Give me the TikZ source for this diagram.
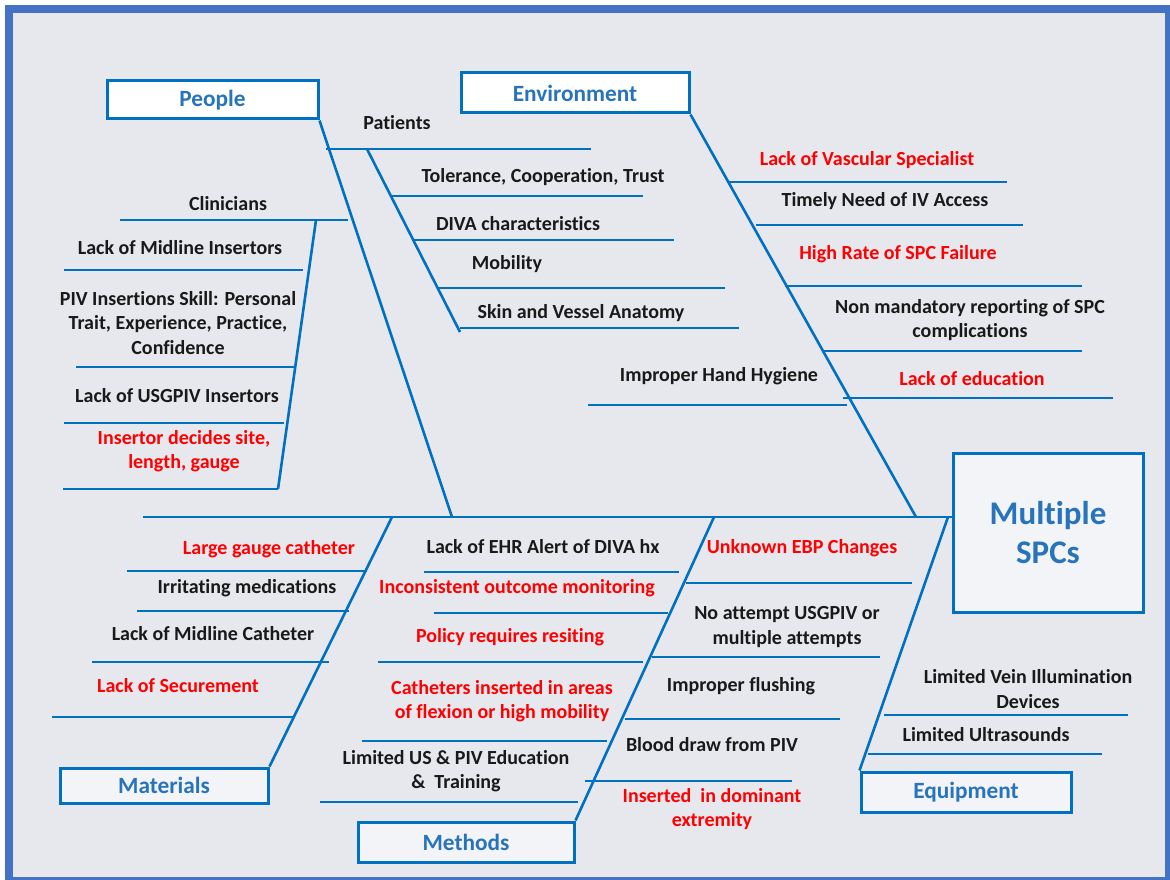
\documentclass[tikz,border=0pt]{standalone}
\usepackage{fontspec}
\setmainfont{Carlito}[Ligatures={NoCommon}]
\usetikzlibrary{positioning,calc}

\definecolor{frameblue}{RGB}{68,114,196}
\definecolor{boneblue}{RGB}{0,112,192}
\definecolor{headblue}{RGB}{40,116,188}
\definecolor{panel}{RGB}{231,232,238}
\definecolor{boxfill}{RGB}{243,244,248}
\definecolor{causered}{RGB}{255,0,0}

\begin{document}
\begin{tikzpicture}[
    x=1pt, y=-1pt,
    font=\fontsize{20}{24.5}\selectfont\bfseries,
    cat/.style={draw=boneblue, line width=3pt, fill=white, text=headblue,
      font=\fontsize{23.3}{26}\selectfont\bfseries},
    catlow/.style={cat, fill=boxfill},
    item/.style={align=center, inner sep=0pt, text=black!90},
    hot/.style={item, text=causered},
    bone/.style={draw=boneblue, line width=2.6pt},
    rib/.style={draw=boneblue, line width=2.6pt}
  ]
    \useasboundingbox (0,0) rectangle (1170,880);
    \draw[frameblue, line width=8pt, fill=panel] (9,9) rectangle (1169,881);

    % category boxes and effect
    \node[cat, minimum width=211pt, minimum height=38pt] (people) at (212.5,100) {People};
    \node[cat, minimum width=228pt, minimum height=40pt] (env) at (575,93) {Environment};
    \node[catlow, minimum width=208pt, minimum height=35pt] (mat) at (164,785.5) {Materials};
    \node[catlow, minimum width=216pt, minimum height=40pt] (meth) at (466,842) {Methods};
    \node[catlow, minimum width=210pt, minimum height=40pt] (equip) at (966,792) {Equipment};
    \node[catlow, minimum width=190pt, minimum height=159pt, align=center,
      font=\fontsize{33}{39}\selectfont\bfseries] (spc) at (1048,532.5) {Multiple\\SPCs};

    % spine and main bones
    \coordinate (tail) at (143,517);
    \coordinate (pplj) at (452,517);
    \coordinate (envj) at (916,517);
    \coordinate (matj) at (392,517);
    \coordinate (methj) at (714,517);
    \coordinate (eqj) at (948,517);
    \draw[bone] (tail) -- (tail -| spc.west);
    \draw[bone] (people.south east) -- (pplj);
    \draw[bone] (env.south east) -- (envj);
    \draw[bone] (matj) -- (mat.north east);
    \draw[bone] (methj) -- (meth.north east);
    \draw[bone] (eqj) -- (equip.north west);

    % people
    \coordinate (pat) at (367,149);
    \coordinate (clin) at (316,220);
    \draw[bone] (pat) -- (460,332);
    \draw[bone] (clin) -- (278,489);
    \node[item] (patients) at (397,123) {Patients};
    \draw[rib] (326,149) -- (591,149);
    \node[item] (toler) at (543,177) {Tolerance, Cooperation, Trust};
    \draw[rib] (390,196) -- (643,196);
    \node[item] (diva) at (518,224) {DIVA characteristics};
    \draw[rib] (414,240) -- (674,240);
    \node[item] (mobil) at (507,264) {Mobility};
    \draw[rib] (438,288) -- (725,288);
    \node[item] (skin) at (581,313) {Skin and Vessel Anatomy};
    \draw[rib] (460,328) -- (739,328);
    \node[item] (clinicians) at (228,204) {Clinicians};
    \draw[rib] (120,220) -- (348,220);
    \node[item] (midins) at (180,248) {Lack of Midline Insertors};
    \draw[rib] (64,270) -- (303,270);
    \node[item] (skill) at (178,323) {PIV Insertions Skill: Personal\\Trait, Experience, Practice,\\Confidence};
    \draw[rib] (76,367) -- (295,367);
    \node[item] (usgins) at (177,396) {Lack of USGPIV Insertors};
    \draw[rib] (64,423) -- (284,423);
    \node[hot] (decides) at (184,451) {Insertor decides site,\\length, gauge};
    \draw[rib] (63,489) -- (278,489);

    % environment
    \node[hot] (vasc) at (867,160) {Lack of Vascular Specialist};
    \draw[rib] (727,182) -- (1007,182);
    \node[item] (timely) at (885,201) {Timely Need of IV Access};
    \draw[rib] (756,225) -- (1023,225);
    \node[hot] (fail) at (898,254) {High Rate of SPC Failure};
    \draw[rib] (785,286) -- (1082,286);
    \node[item] (report) at (970,320) {Non mandatory reporting of SPC\\complications};
    \draw[rib] (822,351) -- (1082,351);
    \node[hot] (educ) at (972,379) {Lack of education};
    \draw[rib] (843,398) -- (1113,398);
    \node[item] (hygiene) at (719,376) {Improper Hand Hygiene};
    \draw[rib] (588,405) -- (847,405);

    % materials
    \node[hot] (gauge) at (269,549) {Large gauge catheter};
    \draw[rib] (127,571) -- (367,571);
    \node[item] (irrit) at (247,588) {Irritating medications};
    \draw[rib] (137,611) -- (349,611);
    \node[item] (midcath) at (213,634) {Lack of Midline Catheter};
    \draw[rib] (92,662) -- (329,662);
    \node[hot] (secure) at (178,686) {Lack of Securement};
    \draw[rib] (52,717) -- (294,717);

    % methods
    \node[item] (ehr) at (543,547) {Lack of EHR Alert of DIVA hx};
    \draw[rib] (424,572) -- (679,572);
    \node[hot] (outcome) at (517,588) {Inconsistent outcome monitoring};
    \draw[rib] (434,613) -- (668,613);
    \node[hot] (resite) at (510,637) {Policy requires resiting};
    \draw[rib] (378,662) -- (643,662);
    \node[hot] (flexion) at (502,701) {Catheters inserted in areas\\of flexion or high mobility};
    \draw[rib] (362,741) -- (607,741);
    \node[item] (train) at (456,771) {Limited US \& PIV Education\\\&~~Training};
    \draw[rib] (320,802) -- (578,802);
    \node[hot] (ebp) at (802,548) {Unknown EBP Changes};
    \draw[rib] (686,583) -- (912,583);
    \node[item] (attempt) at (787,627) {No attempt USGPIV or\\multiple attempts};
    \draw[rib] (652,657) -- (880,657);
    \node[item] (flush) at (741,686) {Improper flushing};
    \draw[rib] (625,719) -- (840,719);
    \node[item] (blood) at (712,745) {Blood draw from PIV};
    \draw[rib] (585,781) -- (792,781);
    \node[hot] (domin) at (712,809) {Inserted~~in dominant\\extremity};

    % equipment
    \node[item] (illum) at (1028,689) {Limited Vein Illumination\\Devices};
    \draw[rib] (884,715) -- (1128,715);
    \node[item] (usound) at (986,735) {Limited Ultrasounds};
    \draw[rib] (868,754) -- (1102,754);
  \end{tikzpicture}
\end{document}
